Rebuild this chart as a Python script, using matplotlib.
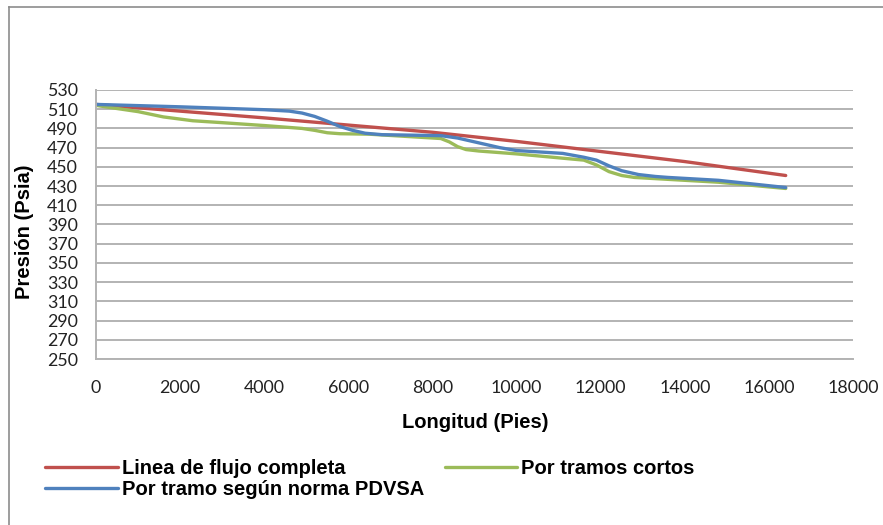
import matplotlib
matplotlib.use("Agg")
import matplotlib.pyplot as plt
from matplotlib.lines import Line2D

# ---- data ----
red_x = [0, 2000, 4000, 6000, 8000, 10000, 12000, 14000, 16400]
red_y = [515, 508, 501, 493.5, 486, 476.5, 466, 455.5, 441]

green_x = [0, 300, 1000, 1600, 2300, 3000, 4000, 4600, 4900, 5200, 5500, 5800, 6500,
           8200, 8400, 8600, 8800, 9100, 10000, 11100, 11600, 11900, 12200, 12500,
           12800, 13600, 14800, 16400]
green_y = [514, 512, 507.5, 502, 498, 496, 493, 491, 490, 488, 485.5, 484.5, 484,
           479.5, 476, 471, 468, 466.5, 463.5, 459, 457, 452, 445, 441,
           439, 437, 434, 427.5]

blue_x = [0, 2000, 4000, 4600, 4900, 5200, 5500, 5800, 6100, 6400, 6800, 8200,
          8600, 9000, 9600, 10000, 11100, 11600, 11900, 12200, 12500, 12900,
          13300, 13600, 14800, 16400]
blue_y = [515, 512.5, 509.5, 508, 506, 502.5, 497.5, 492, 488, 485, 483.5, 482.5,
          480, 476, 470, 467, 464, 460, 457, 451, 446, 442,
          440, 439, 436, 428.5]

series_names = ["Linea de flujo completa", "Por tramos cortos", "Por tramo según norma PDVSA"]
y_ticks = list(range(250, 531, 20))
x_ticks = list(range(0, 18001, 2000))
x_label = "Longitud (Pies)"
y_label = "Presión (Psia)"

bold_family = ["Liberation Sans", "DejaVu Sans"]
tick_family = ["Lato", "DejaVu Sans"]

RED, GREEN, BLUE = "#C0504D", "#9BBB59", "#4F81BD"
GRID = "#B3B3B3"

fig = plt.figure(figsize=(8.83, 5.25), dpi=100)
ax = fig.add_axes([96/883, 1-359/525, (853-96)/883, (359-90)/525])

lw = 2.4
l_red, = ax.plot(red_x, red_y, color=RED, lw=lw, solid_capstyle="round", solid_joinstyle="round")
l_green, = ax.plot(green_x, green_y, color=GREEN, lw=lw, solid_capstyle="round", solid_joinstyle="round")
l_blue, = ax.plot(blue_x, blue_y, color=BLUE, lw=lw, solid_capstyle="round", solid_joinstyle="round")

ax.set_xlim(0, 18000)
ax.set_ylim(250, 530)
ax.set_yticks(y_ticks)
ax.set_xticks(x_ticks)
ax.set_yticklabels([str(v) for v in y_ticks], family=tick_family, fontsize=12.8, color="#222222")
ax.set_xticklabels([str(v) for v in x_ticks], family=tick_family, fontsize=12.8, color="#222222")
ax.tick_params(axis="both", length=0)
ax.tick_params(axis="x", pad=15)
ax.tick_params(axis="y", pad=13)
ax.yaxis.grid(True, color=GRID, lw=1.4)
ax.set_axisbelow(True)
for s in ["top", "right"]:
    ax.spines[s].set_visible(False)
ax.spines["left"].set_color(GRID)
ax.spines["left"].set_linewidth(1.4)
ax.spines["bottom"].set_color(GRID)
ax.spines["bottom"].set_linewidth(1.4)

fig.text(475/883, 1-423/525, x_label, ha="center", va="center",
         family=bold_family, fontweight="bold", fontsize=14.5)
fig.text(25/883, 1-232/525, y_label, ha="center", va="center", rotation=90,
         family=bold_family, fontweight="bold", fontsize=14.5)

leg = fig.legend([l_red, l_blue, l_green],
                 [series_names[0], series_names[2], series_names[1]],
                 ncol=2, loc="upper left", bbox_to_anchor=(45/883, 1-459/525),
                 frameon=False, handlelength=3.6, handletextpad=0.2,
                 columnspacing=1.05, labelspacing=0.1,
                 prop={"family": bold_family, "weight": "bold", "size": 14.5},
                 borderaxespad=0, borderpad=0)

# outer chart border (top and left visible in reference)
fig.add_artist(Line2D([9/883, 1], [1-7/525, 1-7/525], transform=fig.transFigure, color="#8C8C8C", lw=1.2))
fig.add_artist(Line2D([9/883, 9/883], [0, 1-7/525], transform=fig.transFigure, color="#8C8C8C", lw=1.2))

fig.savefig("out.png", dpi=100, facecolor="white")
